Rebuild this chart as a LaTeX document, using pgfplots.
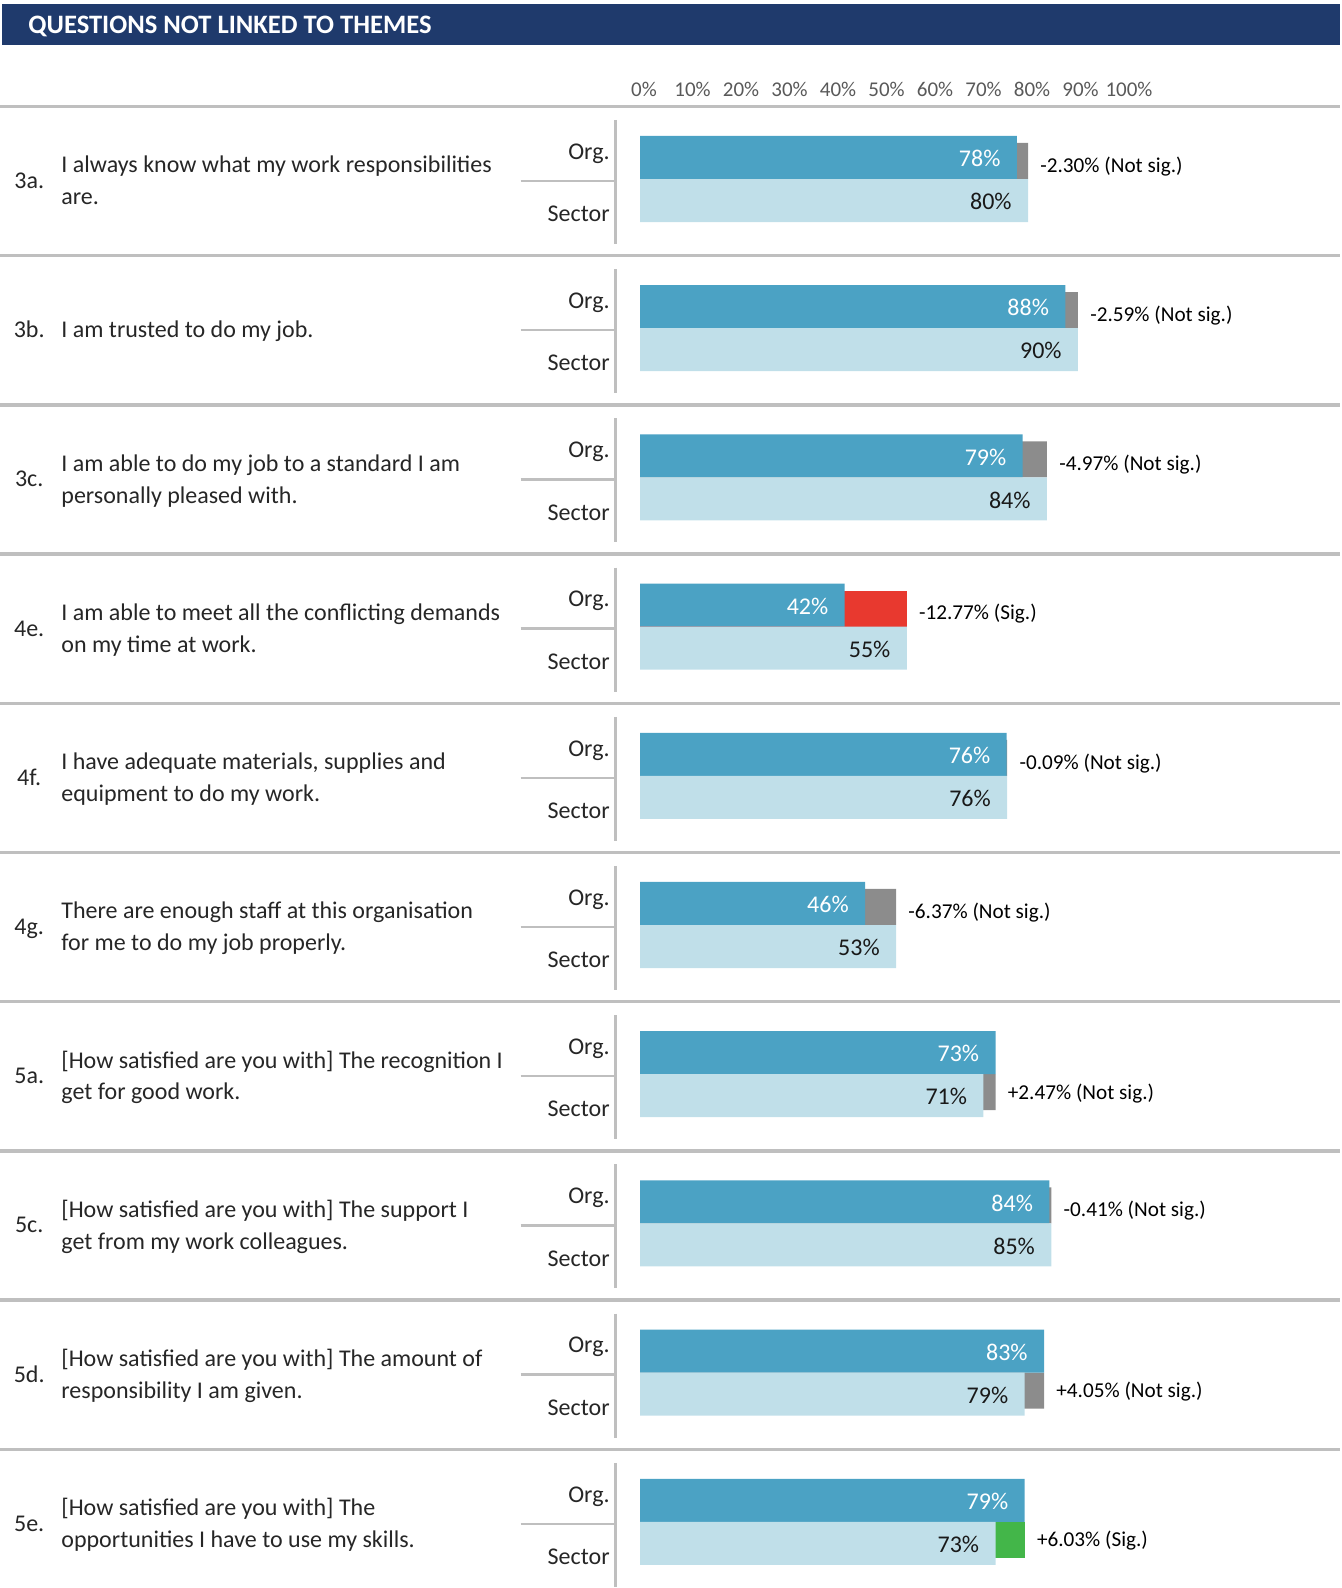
\documentclass[border=0pt]{standalone}
\usepackage{pgfplots}
\pgfplotsset{compat=1.18}
\usepackage{pgfplotstable}
\usepackage{fontspec}
\setmainfont{Carlito}

\definecolor{navy}{HTML}{1F3A6C}
\definecolor{orgblue}{HTML}{4BA2C4}
\definecolor{seclight}{HTML}{C0DFE9}
\definecolor{diffgray}{HTML}{8C8C8C}
\definecolor{sigred}{HTML}{E8392F}
\definecolor{siggreen}{HTML}{43B649}
\definecolor{rulegray}{HTML}{BFBFBF}
\definecolor{ink}{HTML}{262626}
\definecolor{tickgray}{HTML}{595959}

% Org. and Sector scores, one row per question (idx 0 = top)
\pgfplotstableread{
idx org sector
0 77.7 80.0
1 87.7 90.3
2 78.9 83.9
3 42.2 55.0
4 75.6 75.7
5 46.4 52.8
6 73.3 70.8
7 84.4 84.8
8 83.3 79.3
9 79.3 73.3
}\scores

% gap boxes: drawn to the larger score, behind the smaller bar
\pgfplotstableread{
idx to
0 80.0
1 90.3
2 83.9
4 75.7
5 52.8
7 84.8
}\grayorg
\pgfplotstableread{
idx to
3 55.0
}\redorg
\pgfplotstableread{
idx to
6 73.3
8 83.3
}\graysec
\pgfplotstableread{
idx to
9 79.3
}\greensec

\newcommand{\qfont}{\fontsize{12}{14}\selectfont}
\newcommand{\dfont}{\fontsize{10.6}{12}\selectfont}
\newcommand{\tfont}{\fontsize{10.5}{12}\selectfont}

% px layout: 1px = 0.5pt, block i starts at 106.5+149.2*i
\newcommand{\qtwo}[4]{%
  \pgfmathsetmacro\T{106.5+149.2*#1}
  \node[anchor=base, text=ink] at (29.2,{\T+82}) {#2};
  \node[anchor=base west, text=ink] at (61,{\T+66.5}) {#3};
  \node[anchor=base west, text=ink] at (61,{\T+98.3}) {#4};
}
\newcommand{\qone}[3]{%
  \pgfmathsetmacro\T{106.5+149.2*#1}
  \node[anchor=base, text=ink] at (29.2,{\T+82}) {#2};
  \node[anchor=base west, text=ink] at (61,{\T+82}) {#3};
}

\begin{document}
\begin{tikzpicture}[every node/.style={inner sep=0pt, font=\qfont}]
\useasboundingbox (0,0) rectangle (671pt,794pt);

\begin{scope}[x=0.5pt, y=-0.5pt, shift={(0pt,794pt)}]
  \fill[navy] (1.5,4) rectangle (1340,45.5);
  \node[anchor=base west, text=white, font=\fontsize{13.3}{15}\selectfont\bfseries] at (28,34) {QUESTIONS NOT LINKED TO THEMES};
  \foreach \i in {0,...,9} {
    \pgfmathsetmacro\T{106.5+149.2*\i}
    \draw[rulegray, line width=1.65pt] (0,\T) -- (1340,\T);
    \draw[rulegray, line width=1.5pt] (615,{\T+13.5}) -- (615,{\T+137.5});
    \draw[rulegray, line width=1.25pt] (520.7,{\T+74.5}) -- (615,{\T+74.5});
    \node[anchor=base east, text=ink] at (610,{\T+52.8}) {Org.};
    \node[anchor=base east, text=ink] at (610,{\T+115.2}) {Sector};
  }
  \qtwo{0}{3a.}{I always know what my work responsibilities}{are.}
  \qone{1}{3b.}{I am trusted to do my job.}
  \qtwo{2}{3c.}{I am able to do my job to a standard I am}{personally pleased with.}
  \qtwo{3}{4e.}{I am able to meet all the conflicting demands}{on my time at work.}
  \qtwo{4}{4f.}{I have adequate materials, supplies and}{equipment to do my work.}
  \qtwo{5}{4g.}{There are enough staff at this organisation}{for me to do my job properly.}
  \qtwo{6}{5a.}{[How satisfied are you with] The recognition I}{get for good work.}
  \qtwo{7}{5c.}{[How satisfied are you with] The support I}{get from my work colleagues.}
  \qtwo{8}{5d.}{[How satisfied are you with] The amount of}{responsibility I am given.}
  \qtwo{9}{5e.}{[How satisfied are you with] The}{opportunities I have to use my skills.}
\end{scope}

\begin{axis}[
    at={(320pt,0pt)}, anchor=south west,
    scale only axis,
    width=242.5pt, height=740.75pt,
    xmin=0, xmax=100,
    ymin=0, ymax=9.93,
    y dir=reverse,
    hide axis,
    clip=false,
    /pgf/number format/assume math mode=true,
]
% gap boxes
\addplot[xbar, bar shift=0pt, bar width=0.2413, fill=diffgray, draw=none]
  table[x=to, y expr=\thisrow{idx}+0.3653] {\grayorg};
\addplot[xbar, bar shift=0pt, bar width=0.2413, fill=sigred, draw=none]
  table[x=to, y expr=\thisrow{idx}+0.3653] {\redorg};
\addplot[xbar, bar shift=0pt, bar width=0.2413, fill=diffgray, draw=none]
  table[x=to, y expr=\thisrow{idx}+0.6066] {\graysec};
\addplot[xbar, bar shift=0pt, bar width=0.2413, fill=siggreen, draw=none]
  table[x=to, y expr=\thisrow{idx}+0.6066] {\greensec};

% Org. bars
\addplot[xbar, bar shift=0pt, bar width=0.2882, fill=orgblue, draw=none,
  point meta=x,
  nodes near coords={\pgfmathprintnumber[fixed,precision=0,assume math mode=true]{\pgfplotspointmeta}\%},
  every node near coord/.append style={anchor=east, xshift=-8pt, yshift=-0.6pt, text=white, font=\qfont, inner sep=0pt}]
  table[x=org, y expr=\thisrow{idx}+0.3418] {\scores};

% Sector bars
\addplot[xbar, bar shift=0pt, bar width=0.2882, fill=seclight, draw=none,
  point meta=x,
  nodes near coords={\pgfmathprintnumber[fixed,precision=0,assume math mode=true]{\pgfplotspointmeta}\%},
  every node near coord/.append style={anchor=east, xshift=-8pt, yshift=-0.6pt, text=black!90, font=\qfont, inner sep=0pt}]
  table[x=sector, y expr=\thisrow{idx}+0.6302] {\scores};

% scale along the top
\pgfplotsinvokeforeach{0,10,...,100}{
  \node[anchor=base, font=\tfont, text=tickgray, xshift=2pt, yshift=5.05pt] at (axis cs:#1,0) {#1\%};
}

% differences
\node[anchor=base west, font=\dfont, text=black, xshift=6pt] at (axis cs:80.0,0.441) {-2.30\% (Not sig.)};
\node[anchor=base west, font=\dfont, text=black, xshift=6pt] at (axis cs:90.3,1.441) {-2.59\% (Not sig.)};
\node[anchor=base west, font=\dfont, text=black, xshift=6pt] at (axis cs:83.9,2.441) {-4.97\% (Not sig.)};
\node[anchor=base west, font=\dfont, text=black, xshift=6pt] at (axis cs:55.0,3.441) {-12.77\% (Sig.)};
\node[anchor=base west, font=\dfont, text=black, xshift=6pt] at (axis cs:75.7,4.441) {-0.09\% (Not sig.)};
\node[anchor=base west, font=\dfont, text=black, xshift=6pt] at (axis cs:52.8,5.441) {-6.37\% (Not sig.)};
\node[anchor=base west, font=\dfont, text=black, xshift=6pt] at (axis cs:73.3,6.6535) {+2.47\% (Not sig.)};
\node[anchor=base west, font=\dfont, text=black, xshift=6pt] at (axis cs:84.8,7.441) {-0.41\% (Not sig.)};
\node[anchor=base west, font=\dfont, text=black, xshift=6pt] at (axis cs:83.3,8.6535) {+4.05\% (Not sig.)};
\node[anchor=base west, font=\dfont, text=black, xshift=6pt] at (axis cs:79.3,9.6535) {+6.03\% (Sig.)};
\end{axis}
\end{tikzpicture}
\end{document}
